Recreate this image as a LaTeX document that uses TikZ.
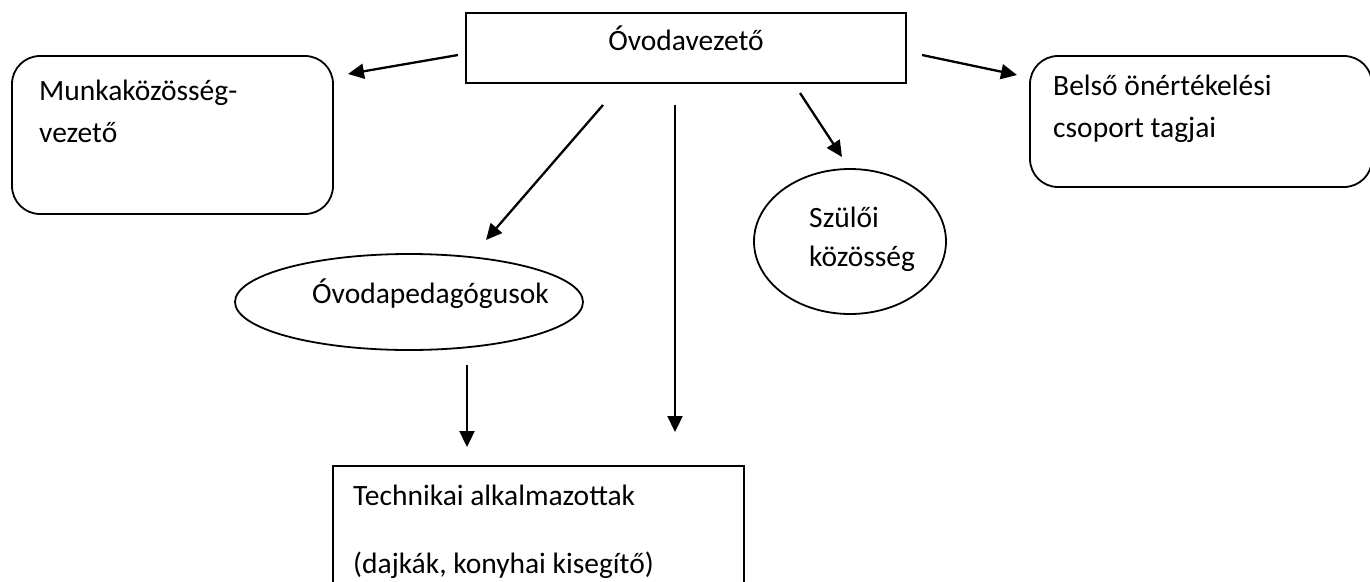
\documentclass[tikz,border=0pt]{standalone}
\usepackage{fontspec}
\setmainfont{Carlito}
\usetikzlibrary{shapes.geometric,arrows.meta}
\begin{document}
\begin{tikzpicture}[x=1pt,y=-1pt,
  shapeline/.style={draw,line width=1.8pt,inner sep=0pt},
  rbox/.style={shapeline,rectangle,rounded corners=28pt},
  sbox/.style={shapeline,rectangle},
  oval/.style={shapeline,ellipse},
  lbl/.style={inner sep=0pt,anchor=base west,font=\fontsize{29.5}{38}\selectfont},
  arr/.style={-{Triangle[length=16pt,width=15pt]},line width=2.3pt}]
\useasboundingbox (0,0) rectangle (1370,581);
\clip (0,0) rectangle (1370,581);
% shapes
\node[sbox,minimum width=440pt,minimum height=70pt] (top) at (686,48) {};
\node[rbox,minimum width=321pt,minimum height=158pt] (munka) at (172.5,135) {};
\node[rbox,minimum width=342pt,minimum height=131pt] (belso) at (1201,121.5) {};
\node[oval,minimum width=348pt,minimum height=96pt] (ped) at (409,302) {};
\node[oval,minimum width=192pt,minimum height=145pt] (szulo) at (850,241.5) {};
\node[sbox,minimum width=411pt,minimum height=200pt] (tech) at (538.5,566) {};
% texts
\node[lbl,anchor=base] (ttop) at (686,50) {Óvodavezető};
\node[lbl] (tmunka1) at (39,100) {Munkaközösség-};
\node[lbl] (tmunka2) at (39,142) {vezető};
\node[lbl] (tbelso1) at (1053,95) {Belső önértékelési};
\node[lbl] (tbelso2) at (1053,137) {csoport tagjai};
\node[lbl] (tped) at (312,303) {Óvodapedagógusok};
\node[lbl] (tszulo1) at (809,227) {Szülői};
\node[lbl] (tszulo2) at (809,266) {közösség};
\node[lbl] (ttech1) at (353,505) {Technikai alkalmazottak};
\node[lbl] (ttech2) at (353,573) {(dajkák, konyhai kisegítő)};
% connector ends
\coordinate (a1s) at (458,55);  \coordinate (a1e) at (348,74);
\coordinate (a2s) at (922,55);  \coordinate (a2e) at (1017,75);
\coordinate (a3s) at (603,105); \coordinate (a3e) at (486,240);
\coordinate (a4s) at (675,105); \coordinate (a4e) at (675,432);
\coordinate (a5s) at (800,93);  \coordinate (a5e) at (842,157);
\coordinate (a6s) at (467,365); \coordinate (a6e) at (467,447);
\draw[arr] (a1s) -- (a1e);
\draw[arr] (a2s) -- (a2e);
\draw[arr] (a3s) -- (a3e);
\draw[arr] (a4s) -- (a4e);
\draw[arr] (a5s) -- (a5e);
\draw[arr] (a6s) -- (a6e);
\end{tikzpicture}
\end{document}
